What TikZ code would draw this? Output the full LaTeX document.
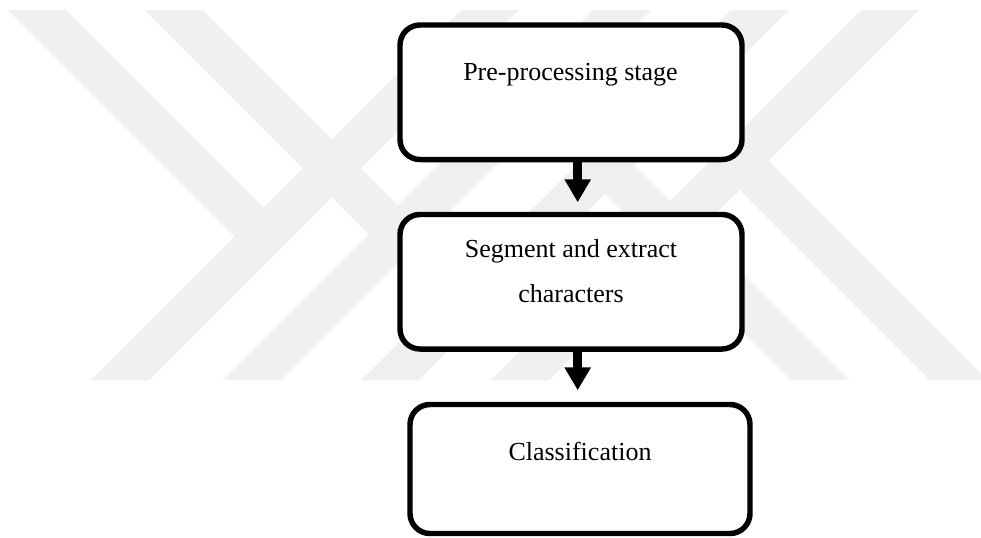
\documentclass[tikz,border=0pt]{standalone}
\usepackage{fontspec}
\setmainfont{Liberation Serif}
\usetikzlibrary{arrows.meta}
\definecolor{wm}{RGB}{240,240,240}
\begin{document}
\begin{tikzpicture}[x=0.75pt,y=-0.75pt,
  stagebox/.style={draw=black, line width=4.1pt, rounded corners=15pt, fill=white, inner sep=0pt},
  lbl/.style={font=\fontsize{19.5pt}{23pt}\selectfont, inner sep=0pt, anchor=base},
  flow/.style={line width=6.75pt, -{Triangle[length=17.25pt,width=18.75pt]}},
  mark stripe/.style={fill=wm, draw=none}]
% canvas
\path[use as bounding box, fill=white] (0,0) rectangle (981,537);

% faint striped emblem in the background
\begin{scope}
\clip (0,0) rectangle (981,537);
\path[mark stripe] (461,10) -- (519,10) -- (149,380) -- (91,380) -- cycle;
\path[mark stripe] (593,10) -- (651,10) -- (281,380) -- (223,380) -- cycle;
\path[mark stripe] (731,10) -- (789,10) -- (419,380) -- (361,380) -- cycle;
\path[mark stripe] (861,10) -- (919,10) -- (549,380) -- (491,380) -- cycle;
\path[mark stripe] (8,10) -- (66,10) -- (278,222) -- (249,251) -- cycle;
\path[mark stripe] (144.5,10) -- (202.5,10) -- (412.25,219.75) -- (383.25,248.75) -- cycle;
\path[mark stripe] (791,380) -- (849,380) -- (619.5,150.5) -- (590.5,179.5) -- cycle;
\path[mark stripe] (929.5,380) -- (987.5,380) -- (754.75,147.25) -- (725.75,176.25) -- cycle;
\end{scope}

% process stages
\node[stagebox, minimum width=256.5pt, minimum height=100.9pt] (b1) at (571,92.25) {};
\node[stagebox, minimum width=256.5pt, minimum height=100.9pt] (b2) at (571,281.75) {};
\node[stagebox, minimum width=255pt, minimum height=96.75pt] (b3) at (580,469) {};

\node[lbl] (t1) at (570.5,80.7) {Pre-processing stage};
\node[lbl] (t2a) at (571,257.3) {Segment and extract};
\node[lbl] (t2b) at (571,302.3) {characters};
\node[lbl] (t3) at (580,460) {Classification};

% flow between stages
\coordinate (ax) at (577.7,0);
\draw[flow, shorten >=7.1pt] (b1.south -| ax) -- (b2.north -| ax);
\draw[flow, shorten >=8.6pt] (b2.south -| ax) -- (b3.north -| ax);
\end{tikzpicture}
\end{document}
